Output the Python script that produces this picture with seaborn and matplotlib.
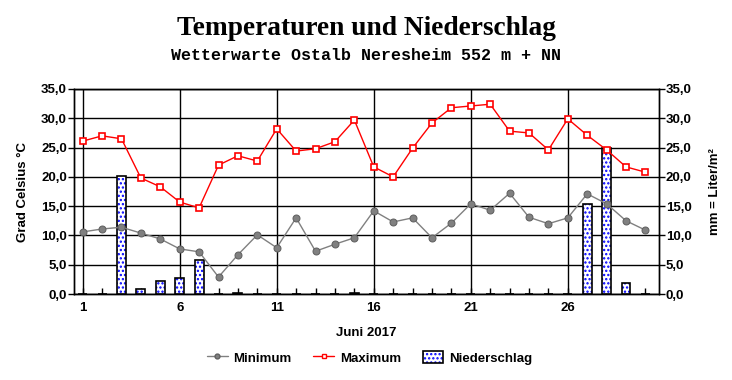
import numpy as np, pandas as pd
import matplotlib
matplotlib.use("Agg")
import matplotlib.pyplot as plt
import seaborn as sns
from matplotlib.ticker import FuncFormatter, MultipleLocator
from matplotlib.lines import Line2D
from matplotlib.patches import Patch

sns.set_theme(style="white")
plt.rcParams["font.family"] = ["Liberation Sans", "DejaVu Sans"]
plt.rcParams["hatch.linewidth"] = 1.1
for k in ("text.color", "axes.labelcolor", "xtick.color", "ytick.color"):
    plt.rcParams[k] = "black"

days = list(range(1, 31))
t_min = [10.6, 11.1, 11.4, 10.4, 9.4, 7.7, 7.2, 2.9, 6.7, 10.1,
         7.9, 13.0, 7.3, 8.5, 9.6, 14.2, 12.3, 13.0, 9.6, 12.1,
         15.4, 14.3, 17.2, 13.1, 12.0, 13.0, 17.1, 15.4, 12.5, 10.9]
t_max = [26.1, 27.0, 26.5, 19.8, 18.3, 15.7, 14.7, 22.0, 23.6, 22.7,
         28.2, 24.4, 24.8, 26.0, 29.7, 21.7, 20.0, 24.9, 29.2, 31.8,
         32.1, 32.4, 27.8, 27.5, 24.6, 29.9, 27.1, 24.6, 21.7, 20.8]
rain = [0.0, 0.0, 20.1, 0.9, 2.3, 2.7, 5.8, 0.0, 0.2, 0.0,
        0.0, 0.0, 0.0, 0.0, 0.2, 0.0, 0.0, 0.0, 0.0, 0.0,
        0.0, 0.0, 0.0, 0.0, 0.0, 0.0, 15.4, 25.0, 1.8, 0.0]

df = pd.DataFrame({"day": days, "min": t_min, "max": t_max, "rain": rain})

fig = plt.figure(figsize=(7.32, 3.80), dpi=100)
ax = fig.add_axes([0.101, 0.2263, 0.7993, 0.5395])
ax2 = ax.twinx()

# precipitation bars (hatched blue dots + black outline)
ax.bar(df.day, df.rain, width=0.46, color="white", edgecolor="#0000ff",
       hatch="....", linewidth=0, zorder=3)
ax.bar(df.day, df.rain, width=0.46, fill=False, edgecolor="black",
       linewidth=1.2, zorder=4)

sns.lineplot(data=df, x="day", y="min", ax=ax, color="#808080", lw=1,
             marker="o", markersize=5, markerfacecolor="#808080",
             markeredgecolor="#606060", zorder=5)
sns.lineplot(data=df, x="day", y="max", ax=ax, color="red", lw=1,
             marker="s", markersize=5, markerfacecolor="white",
             markeredgecolor="red", markeredgewidth=1.2, zorder=6)

fmt = FuncFormatter(lambda v, p: f"{v:.1f}".replace(".", ","))
for a in (ax, ax2):
    a.set_ylim(0, 35)
    a.yaxis.set_major_locator(MultipleLocator(5))
    a.yaxis.set_major_formatter(fmt)
    for s in a.spines.values():
        s.set_color("black")
        s.set_linewidth(1)
ax.set_xlim(0.55, 30.7)
ax.set_xticks([1, 6, 11, 16, 21, 26])
ax.xaxis.set_minor_locator(MultipleLocator(1))
ax.tick_params(axis="x", which="both", direction="in", length=4, width=1,
               color="black", bottom=True, labelsize=9.5, pad=6)
ax.tick_params(axis="y", direction="out", length=4, width=1, color="black",
               left=True, labelsize=9.5, pad=1)
ax2.tick_params(axis="y", direction="out", length=4, width=1, color="black",
                right=True, labelsize=9.5, pad=1)
for lab in ax.get_xticklabels() + ax.get_yticklabels() + ax2.get_yticklabels():
    lab.set_fontweight("bold")

ax.grid(True, axis="y", color="black", lw=1)
ax.grid(True, axis="x", which="major", color="black", lw=1)
ax.set_axisbelow(True)
ax2.grid(False)

ax.set_xlabel("Juni 2017", fontsize=9.5, fontweight="bold", labelpad=9)
ax.set_ylabel("Grad Celsius °C", fontsize=9.5, fontweight="bold", labelpad=9)
ax2.set_ylabel("mm = Liter/m²", fontsize=9.5, fontweight="bold", labelpad=12)

fig.text(0.5, 0.925, "Temperaturen und Niederschlag", ha="center", va="center",
         fontsize=19.7, fontweight="bold", family="Liberation Serif")
fig.text(0.5, 0.855, "Wetterwarte Ostalb Neresheim 552 m + NN", ha="center",
         va="center", fontsize=12, fontweight="bold", family="Liberation Mono")

handles = [
    Line2D([], [], color="#808080", lw=1, marker="o", markersize=3.5,
           markerfacecolor="#808080", markeredgecolor="#606060"),
    Line2D([], [], color="red", lw=1, marker="s", markersize=3.5,
           markerfacecolor="white", markeredgecolor="red"),
    (Patch(facecolor="white", edgecolor="#0000ff", hatch="....", linewidth=0),
     Patch(fill=False, edgecolor="black", linewidth=1.2)),
]
leg = fig.legend(handles, ["Minimum", "Maximum", "Niederschlag"], loc="center",
                 bbox_to_anchor=(0.505, 0.058), ncol=3, frameon=False,
                 prop={"weight": "bold", "size": 9.5}, handlelength=1.55,
                 handleheight=0.95, columnspacing=1.65, handletextpad=0.45)

fig.savefig("out.png", dpi=100, facecolor="white")
